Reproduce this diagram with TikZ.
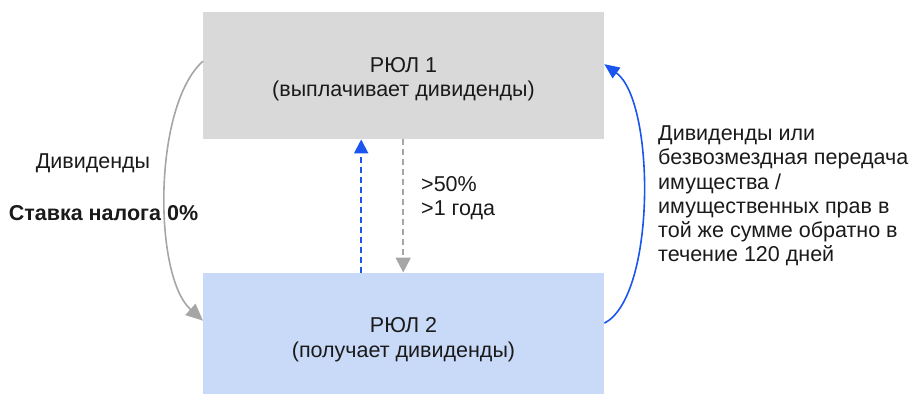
\documentclass[tikz,border=0pt]{standalone}
\usepackage{fontspec}
\setmainfont{Liberation Sans}
\usetikzlibrary{arrows.meta}
\definecolor{boxgray}{HTML}{D9D9D9}
\definecolor{boxblue}{HTML}{C9DAF8}
\definecolor{arrgray}{HTML}{A6A6A6}
\definecolor{arrblue}{HTML}{1A55F0}
\definecolor{txt}{HTML}{1A1A1A}
\begin{document}
\begin{tikzpicture}[x=1pt,y=-1pt,
  every node/.style={font=\fontsize{21.5}{24.3}\selectfont, text=txt, inner sep=0pt},
  entity/.style={draw=none, minimum width=401pt, anchor=north west},
  lbl/.style={anchor=base west},
  ctr/.style={anchor=base},
  grayarrow/.style={draw=arrgray, line width=1.6pt, -{Triangle[length=17pt,width=15pt]}},
  bluearrow/.style={draw=arrblue, line width=1.6pt, -{Triangle[length=15pt,width=13pt]}},
  graydash/.style={draw=arrgray, line width=2pt, dash pattern=on 6pt off 4pt, -{Triangle[length=15pt,width=15pt]}},
  bluedash/.style={draw=arrblue, line width=2pt, dash pattern=on 6pt off 4pt, -{Triangle[length=14pt,width=14pt]}}
]
\useasboundingbox (0,0) rectangle (913,394);
\node[entity, fill=boxgray, minimum height=127pt] (r1) at (203,12) {};
\node[entity, fill=boxblue, minimum height=121pt] (r2) at (203,272.5) {};
\node[ctr] (t1a) at (403.5,72.5) {РЮЛ 1};
\node[ctr] (t1b) at (403.5,96.5) {(выплачивает дивиденды)};
\node[ctr] (t2a) at (403.5,332) {РЮЛ 2};
\node[ctr] (t2b) at (403.5,357) {(получает дивиденды)};
\node[ctr] (div) at (93,168) {Дивиденды};
\node[ctr, font=\fontsize{21.5}{24.3}\selectfont\bfseries] (tax) at (103.5,220) {Ставка налога 0\%};
\node[lbl] (p1) at (421,191) {>50\%};
\node[lbl] (p2) at (421,215) {>1 года};
\node[anchor=north west, align=left] (rt) at (658,125.5) {Дивиденды или\\безвозмездная передача\\имущества /\\имущественных прав в\\той же сумме обратно в\\течение 120 дней};
\draw[grayarrow] ([yshift=14.5pt]r1.west) .. controls +(-50,44) and +(-50,-45) .. ([yshift=12.5pt]r2.west);
\draw[bluearrow] ([yshift=10pt]r2.east) .. controls +(52,-27) and +(51,37) .. ([yshift=11.5pt]r1.east);
\draw[bluedash] ([xshift=-42.5pt]r2.north) -- ([xshift=-42.5pt]r1.south);
\draw[graydash] ([xshift=-0.5pt]r1.south) -- ([xshift=-0.5pt]r2.north);
\end{tikzpicture}
\end{document}
